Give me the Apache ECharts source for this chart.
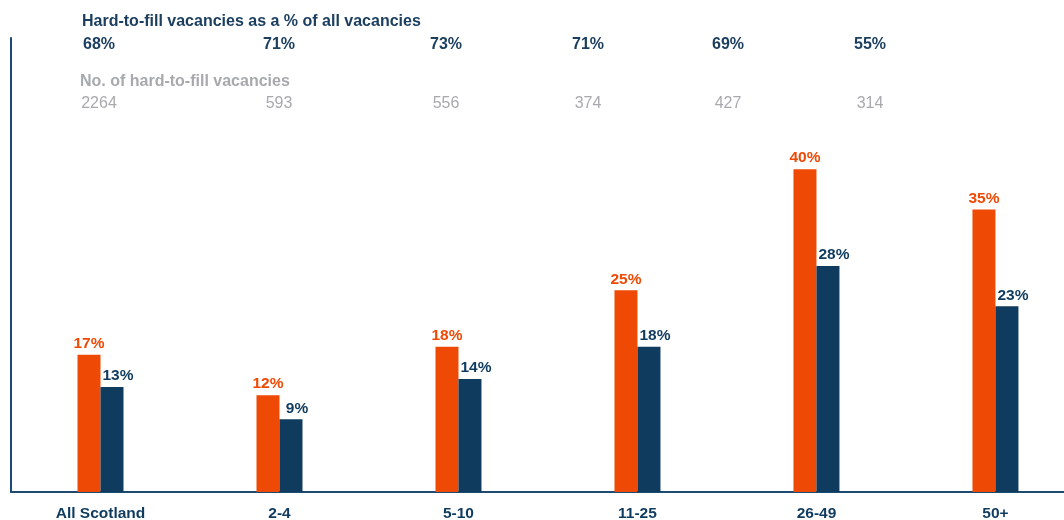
<!DOCTYPE html>
<html>
<head>
<meta charset="utf-8">
<script src="https://cdn.jsdelivr.net/npm/echarts@6/dist/echarts.min.js"></script>
<style>
  html, body { margin: 0; padding: 0; background: #fff; }
  #main { width: 1064px; height: 520px; }
</style>
</head>
<body>
<div id="main"></div>
<script>
// data
var categories = ['All Scotland', '2-4', '5-10', '11-25', '26-49', '50+'];
var seriesA = [17, 12, 18, 25, 40, 35];   // orange
var seriesB = [13, 9, 14, 18, 28, 23];    // navy
var hardPct = ['68%', '71%', '73%', '71%', '69%', '55%'];
var hardCount = ['2264', '593', '556', '374', '427', '314'];

// where the header numbers sit (they don't line up with the bars)
var headerX = [99, 279, 446, 588, 728, 870];

var navy = '#0f3b5f';
var orange = '#ee4a06';
var font = '"Liberation Sans", Arial, sans-serif';

var chart = echarts.init(document.getElementById('main'));

var graphics = [
  {
    type: 'text', x: 82, y: 22,
    style: { text: 'Hard-to-fill vacancies as a % of all vacancies', fill: '#1c3f60', font: 'bold 16px ' + font, verticalAlign: 'middle' }
  },
  {
    type: 'text', x: 80, y: 82,
    style: { text: 'No. of hard-to-fill vacancies', fill: '#a7a9ac', font: 'bold 16px ' + font, verticalAlign: 'middle' }
  }
];
for (var i = 0; i < categories.length; i++) {
  graphics.push({
    type: 'text', x: headerX[i], y: 45,
    style: { text: hardPct[i], fill: '#1c3f60', font: 'bold 16px ' + font, align: 'center', verticalAlign: 'middle' }
  });
  graphics.push({
    type: 'text', x: headerX[i], y: 104,
    style: { text: hardCount[i], fill: '#a7a9ac', font: '16px ' + font, align: 'center', verticalAlign: 'middle' }
  });
}

// x is the category index so the band can run past the right edge
var idx = categories.map(function (c, i) { return i; });

var option = {
  animation: false,
  grid: { left: 11, right: 0, top: 38, bottom: 28, outerBoundsMode: 'none' },
  xAxis: {
    type: 'value',
    min: -0.5,
    max: 5.383,
    axisLine: { onZero: false, lineStyle: { color: '#1d4a70', width: 2 } },
    axisTick: { show: false },
    splitLine: { show: false },
    axisLabel: {
      customValues: idx,
      formatter: function (v) { return categories[Math.round(v)]; },
      color: navy, fontWeight: 'bold', fontSize: 15.5, fontFamily: font, margin: 14
    }
  },
  yAxis: {
    type: 'value',
    min: 0,
    max: 56.25,
    axisLine: { show: true, onZero: false, lineStyle: { color: '#1d4a70', width: 2 } },
    axisTick: { show: false },
    axisLabel: { show: false },
    splitLine: { show: false }
  },
  series: [
    {
      type: 'bar',
      data: seriesA.map(function (v, i) { return [i, v]; }),
      barWidth: 23,
      barGap: '0%',
      itemStyle: { color: orange },
      label: {
        show: true, position: 'top', distance: 3,
        formatter: function (p) { return p.value[1] + '%'; },
        color: orange, fontWeight: 'bold', fontSize: 15.5, fontFamily: font
      }
    },
    {
      type: 'bar',
      data: seriesB.map(function (v, i) { return [i, v]; }),
      barWidth: 23,
      barGap: '0%',
      itemStyle: { color: navy },
      label: {
        show: true, position: 'top', distance: 3, offset: [6, 0],
        formatter: function (p) { return p.value[1] + '%'; },
        color: navy, fontWeight: 'bold', fontSize: 15.5, fontFamily: font
      }
    }
  ],
  graphic: graphics
};

chart.setOption(option);
</script>
</body>
</html>
